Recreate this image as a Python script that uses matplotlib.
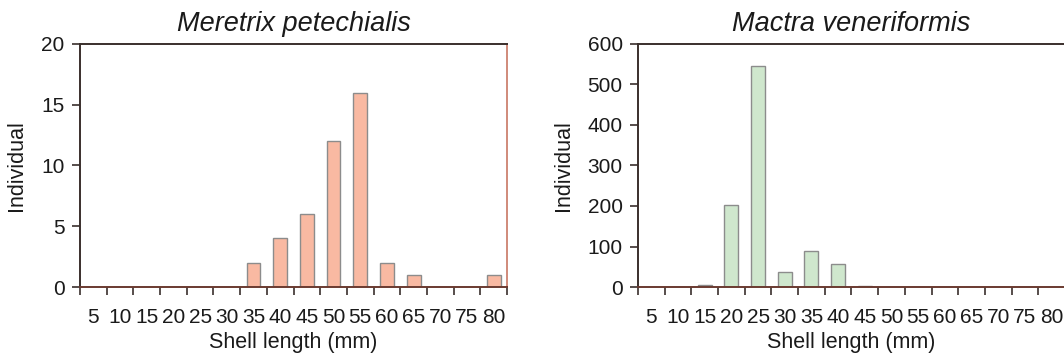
import numpy as np
import matplotlib.pyplot as plt
from matplotlib.ticker import FixedLocator

plt.rcParams['font.family'] = ['Liberation Sans', 'DejaVu Sans']

# shell length classes (mm)
length_classes = [5, 10, 15, 20, 25, 30, 35, 40, 45, 50, 55, 60, 65, 70, 75, 80]

# individuals per class
meretrix_counts = [0, 0, 0, 0, 0, 0, 2, 4, 6, 12, 16, 2, 1, 0, 0, 1]
mactra_counts = [0, 1, 6, 202, 546, 38, 88, 58, 2, 0, 0, 0, 0, 0, 0, 0]

panels = [
    ("Meretrix petechialis", meretrix_counts, "#f9b9a2", 20, 5, [0.0752, 0.196, 0.4013, 0.681]),
    ("Mactra veneriformis", mactra_counts, "#cfe7cd", 600, 100, [0.5996, 0.196, 0.4013, 0.681]),
]

fig = plt.figure(figsize=(10.64, 3.57), dpi=100)

for title, counts, color, ymax, ystep, rect in panels:
    ax = fig.add_axes(rect)
    x = np.arange(len(length_classes))
    ax.bar(x, counts, width=0.52, color=color, edgecolor="#8c8c8c", linewidth=1.0, zorder=2)

    ax.set_xlim(-0.5, len(length_classes) - 0.5)
    ax.set_ylim(0, ymax)
    ax.set_yticks(np.arange(0, ymax + 1, ystep))

    # ticks sit between classes, labels centred on each class
    ax.xaxis.set_major_locator(FixedLocator(np.arange(-0.5, len(length_classes), 1.0)))
    ax.xaxis.set_minor_locator(FixedLocator(x))
    ax.set_xticklabels([])
    ax.set_xticklabels([str(v) for v in length_classes], minor=True)
    ax.tick_params(axis="x", which="major", direction="out", length=6, width=1.2, color="#3a2f2c")
    ax.tick_params(axis="x", which="minor", length=0, pad=15, labelsize=15, labelcolor="#1a1a1a")
    ax.tick_params(axis="y", direction="out", length=6, width=1.2, color="#3a2f2c",
                   labelsize=15, labelcolor="#1a1a1a", pad=5)

    for side in ["left", "top"]:
        ax.spines[side].set_color("#3a2f2c")
        ax.spines[side].set_linewidth(1.4)
    ax.spines["bottom"].set_color("#6a3a30")
    ax.spines["bottom"].set_linewidth(1.4)
    ax.spines["right"].set_color("#d08a7a")
    ax.spines["right"].set_linewidth(1.4)

    ax.set_title(title, fontsize=19.5, style="italic", color="#1a1a1a", pad=9)
    ax.set_xlabel("Shell length (mm)", fontsize=15.5, color="#1a1a1a", labelpad=4)
    ax.set_ylabel("Individual", fontsize=15.5, color="#1a1a1a", labelpad=10)

fig.savefig("out.png", dpi=100)
plt.close(fig)
